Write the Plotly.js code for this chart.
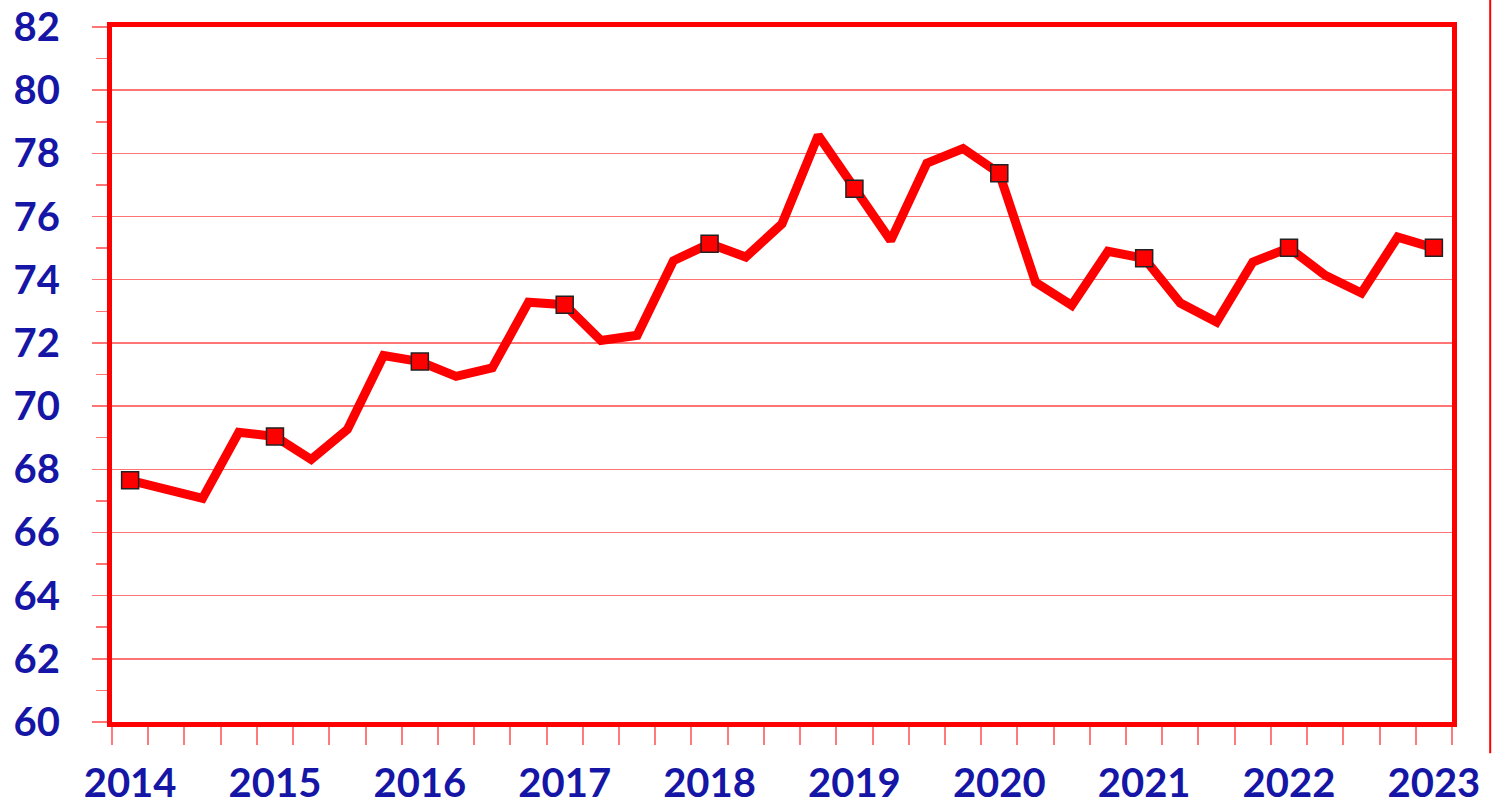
<!DOCTYPE html>
<html>
<head>
<meta charset="utf-8">
<script src="https://cdn.plot.ly/plotly-3.0.1.min.js"></script>
<style>html,body{margin:0;padding:0;background:#fff;}#chart{width:1494px;height:809px;}</style>
</head>
<body>
<div id="chart"></div>
<script>
// Quarterly series, 2014 Q1 .. 2023 Q1
const quarters = [
  "2014Q1","2014Q2","2014Q3","2014Q4",
  "2015Q1","2015Q2","2015Q3","2015Q4",
  "2016Q1","2016Q2","2016Q3","2016Q4",
  "2017Q1","2017Q2","2017Q3","2017Q4",
  "2018Q1","2018Q2","2018Q3","2018Q4",
  "2019Q1","2019Q2","2019Q3","2019Q4",
  "2020Q1","2020Q2","2020Q3","2020Q4",
  "2021Q1","2021Q2","2021Q3","2021Q4",
  "2022Q1","2022Q2","2022Q3","2022Q4",
  "2023Q1"
];
const values = [
  67.65, 67.40, 67.08, 69.17,
  69.04, 68.31, 69.26, 71.60,
  71.41, 70.94, 71.21, 73.29,
  73.21, 72.08, 72.24, 74.60,
  75.14, 74.72, 75.77, 78.57,
  76.88, 75.24, 77.69, 78.15,
  77.37, 73.92, 73.19, 74.90,
  74.68, 73.26, 72.66, 74.56,
  75.01, 74.14, 73.58, 75.35,
  75.01
];
const yearLabels = ["2014","2015","2016","2017","2018","2019","2020","2021","2022","2023"];

const idx = quarters.map((q, i) => i);
const markIdx = idx.filter(i => quarters[i].endsWith("Q1"));
const markVals = markIdx.map(i => values[i]);

const blue = "#1616a6";
const red = "#ff0000";
const grid = "rgba(255,70,70,0.75)";
const tickFont = {family: "Lato, 'Open Sans', sans-serif", size: 40, color: blue, weight: "bold"};

const traces = [
  {x: idx, y: values, type: "scatter", mode: "lines",
   line: {color: red, width: 9}, hoverinfo: "skip", showlegend: false},
  {x: markIdx, y: markVals, type: "scatter", mode: "markers",
   marker: {symbol: "square", size: 17, color: red, line: {color: "#222", width: 1.5}},
   showlegend: false}
];

const layout = {
  width: 1494, height: 809,
  margin: {l: 112, r: 42, t: 27, b: 87},
  paper_bgcolor: "#fff", plot_bgcolor: "#fff",
  xaxis: {
    range: [-0.5, quarters.length - 0.5],
    tickmode: "array", tickvals: markIdx, ticktext: yearLabels,
    ticks: "", showgrid: false, zeroline: false,
    showline: true, mirror: true, linecolor: red, linewidth: 5,
    tickfont: tickFont, ticklabelstandoff: 22,
    minor: {tickmode: "linear", tick0: -0.5, dtick: 1, ticks: "outside", ticklen: 18,
            tickwidth: 2, tickcolor: "rgba(255,90,90,0.8)", showgrid: false}
  },
  yaxis: {
    range: [60, 82], tickmode: "linear", tick0: 60, dtick: 2,
    ticks: "outside", ticklen: 15, tickwidth: 1.5, tickcolor: grid,
    showgrid: true, gridcolor: grid, gridwidth: 1.5, zeroline: false,
    showline: true, mirror: true, linecolor: red, linewidth: 5,
    tickfont: tickFont, ticklabelstandoff: 24,
    minor: {dtick: 1, ticks: "outside", ticklen: 11, tickwidth: 1.5,
            tickcolor: grid, showgrid: false}
  },
  shapes: [
    {type: "line", xref: "paper", yref: "paper", x0: 1.0285, x1: 1.0285, y0: -0.045, y1: 1.05,
     line: {color: red, width: 2}}
  ]
};

Plotly.newPlot("chart", traces, layout, {displayModeBar: false, staticPlot: true});
</script>
</body>
</html>
